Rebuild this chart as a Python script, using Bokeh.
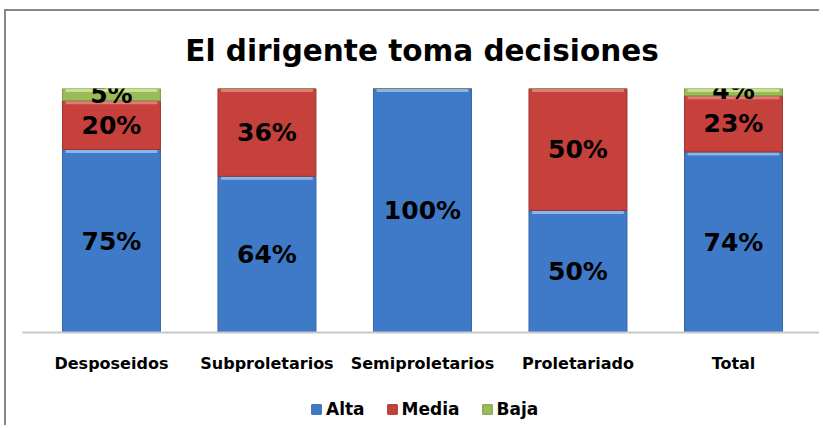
from bokeh.plotting import figure
from bokeh.layouts import column
from bokeh.models import ColumnDataSource, Range1d, FixedTicker, LabelSet, Legend, LegendItem, Title
from bokeh.core.properties import value
from bokeh.embed import file_html
from bokeh.resources import INLINE

categories = ["Desposeidos", "Subproletarios", "Semiproletarios", "Proletariado", "Total"]
alta = [75, 64, 100, 50, 74]
media = [20, 36, 0, 50, 23]
baja = [5, 0, 0, 0, 4]
series_names = ["Alta", "Media", "Baja"]
series_values = [alta, media, baja]
colors = ["#3F7AC8", "#C6403C", "#9BBB59"]
highlights = ["#86B6EE", "#E27A75", "#C9E08E"]
edges = ["#35649F", "#9E3330", "#7D9A45"]

x = list(range(len(categories)))
FONT = "DejaVu Sans"
BORDER = "2px solid #878787"

p = figure(width=815, height=374, output_backend="svg", toolbar_location=None,
           x_range=Range1d(-0.572, 4.566), y_range=Range1d(0, 100),
           min_border_left=16, min_border_right=0, min_border_top=77, min_border_bottom=53,
           styles={"border-left": BORDER, "border-top": BORDER,
                   "margin-left": "4px", "margin-top": "9px"})

p.add_layout(Title(text="El dirigente toma decisiones", align="center", text_font=FONT,
                   text_font_size="29.5px", text_font_style="bold", text_color="#000000",
                   standoff=41), "above")

bar_w = 0.63
bottoms = [0] * len(x)
lab_x, lab_y, lab_t = [], [], []
for name, vals, c, h, e in zip(series_names, series_values, colors, highlights, edges):
    tops = [b + v for b, v in zip(bottoms, vals)]
    src = ColumnDataSource(dict(x=x, bottom=bottoms, top=tops, v=vals))
    p.vbar(x="x", bottom="bottom", top="top", width=bar_w, source=src,
           fill_color=c, line_color=e, line_width=1)
    hx0 = [xi - bar_w / 2 + 0.02 for xi, v in zip(x, vals) if v > 0]
    hx1 = [xi + bar_w / 2 - 0.02 for xi, v in zip(x, vals) if v > 0]
    hy = [min(t, 100) - 0.8 for t, v in zip(tops, vals) if v > 0]
    p.segment(x0=hx0, y0=hy, x1=hx1, y1=hy, line_color=h, line_width=3)
    for xi, b, t, v in zip(x, bottoms, tops, vals):
        if v > 0:
            lab_x.append(xi)
            lab_y.append((b + t) / 2)
            lab_t.append(f"{v}%")
    bottoms = tops

labels = LabelSet(x="x", y="y", text="t", source=ColumnDataSource(dict(x=lab_x, y=lab_y, t=lab_t)),
                  text_align="center", text_baseline="middle", text_font=value(FONT),
                  text_font_style="bold", text_font_size="25px", text_color="#000000")
p.add_layout(labels)

p.xaxis.ticker = FixedTicker(ticks=x)
p.xaxis.major_label_overrides = {i: c for i, c in zip(x, categories)}
p.xaxis.major_tick_line_color = None
p.xaxis.minor_tick_line_color = None
p.xaxis.axis_line_color = "#C8C8C8"
p.xaxis.axis_line_width = 2
p.xaxis.major_label_standoff = 15
p.xaxis.major_label_text_font = FONT
p.xaxis.major_label_text_font_style = "bold"
p.xaxis.major_label_text_font_size = "16px"
p.xaxis.major_label_text_color = "#000000"
p.yaxis.visible = False
p.grid.visible = False
p.outline_line_color = None

# legend strip below the chart (its own renderers carry the series styles; the
# strip's ranges keep the bars themselves out of view)
pl = figure(width=815, height=42, output_backend="svg", toolbar_location=None,
            x_range=Range1d(100, 101), y_range=Range1d(100, 101),
            min_border_left=0, min_border_right=0, min_border_top=0, min_border_bottom=0,
            styles={"border-left": BORDER, "margin-left": "4px"})
pl.axis.visible = False
pl.grid.visible = False
pl.outline_line_color = None
items = []
for name, vals, c, e in zip(series_names, series_values, colors, edges):
    r = pl.vbar(x=x, top=vals, width=bar_w, fill_color=c, line_color=e, line_width=1)
    items.append(LegendItem(label=name, renderers=[r]))
legend = Legend(items=items, orientation="horizontal", location=(288, 6),
                border_line_alpha=0, background_fill_alpha=0, glyph_width=12, glyph_height=12,
                label_text_font=FONT, label_text_font_style="bold", label_text_font_size="17px",
                label_text_color="#000000", spacing=21, label_standoff=4, padding=0, margin=0)
pl.add_layout(legend, "center")

layout = column(p, pl, spacing=0)
open("out.html", "w").write(file_html(layout, INLINE))
